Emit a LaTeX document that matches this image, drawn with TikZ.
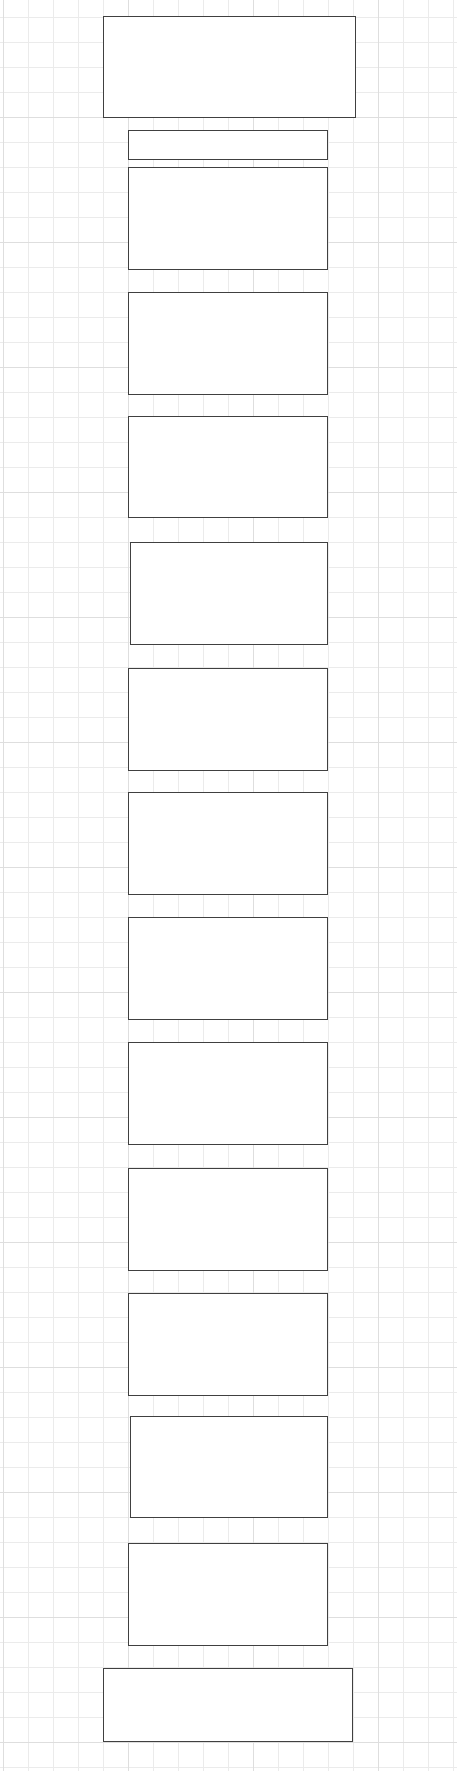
\documentclass[tikz,border=0pt]{standalone}
\usepackage{tikz}
\usetikzlibrary{positioning}

\begin{document}
\begin{tikzpicture}[
		x=1pt, y=-1pt,
		minor/.style = {draw=black!8, line width=1pt},
		major/.style = {draw=black!13, line width=1.2pt},
		slot/.style = {draw=black!75, line width=1pt, fill=white, inner sep=0pt, outer sep=0pt,
			anchor=north west, minimum width=199.4pt, minimum height=102pt}
	]
	\useasboundingbox[fill=white] (0,0) rectangle (457,1771);
	% Grid.
	\foreach \i in {0,...,18} \draw[minor] ({3.3+25*\i},0) -- ({3.3+25*\i},1771);
	\foreach \i in {1,...,71} \draw[minor] (0,{-7.7+25*\i}) -- (457,{-7.7+25*\i});
	\foreach \i in {0,5,10,15} \draw[major] ({3.3+25*\i},0) -- ({3.3+25*\i},1771);
	\foreach \i in {5,10,...,70} \draw[major] (0,{-7.7+25*\i}) -- (457,{-7.7+25*\i});
	% Top.
	\node[slot, minimum width=252.4pt, minimum height=101pt] (head) at (103.3,16.3) {};
	\node[slot, minimum height=29pt] (bar) at (128.3,130.3) {};
	% Cards.
	\node[slot] (c1) at (128.3,167.3) {};
	\node[slot] (c2) at (128.3,292.3) {};
	\node[slot, minimum height=101pt] (c3) at (128.3,416.3) {};
	\node[slot, minimum width=197.4pt] (c4) at (130.3,542.3) {};
	\node[slot] (c5) at (128.3,668.3) {};
	\node[slot] (c6) at (128.3,792.3) {};
	\node[slot] (c7) at (128.3,917.3) {};
	\node[slot] (c8) at (128.3,1042.3) {};
	\node[slot] (c9) at (128.3,1168.3) {};
	\node[slot] (c10) at (128.3,1293.3) {};
	\node[slot, minimum width=197.4pt, minimum height=101pt] (c11) at (130.3,1416.3) {};
	\node[slot] (c12) at (128.3,1543.3) {};
	% Bottom.
	\node[slot, minimum width=249pt, minimum height=73pt] (foot) at (103.3,1668.3) {};
\end{tikzpicture}
\end{document}
